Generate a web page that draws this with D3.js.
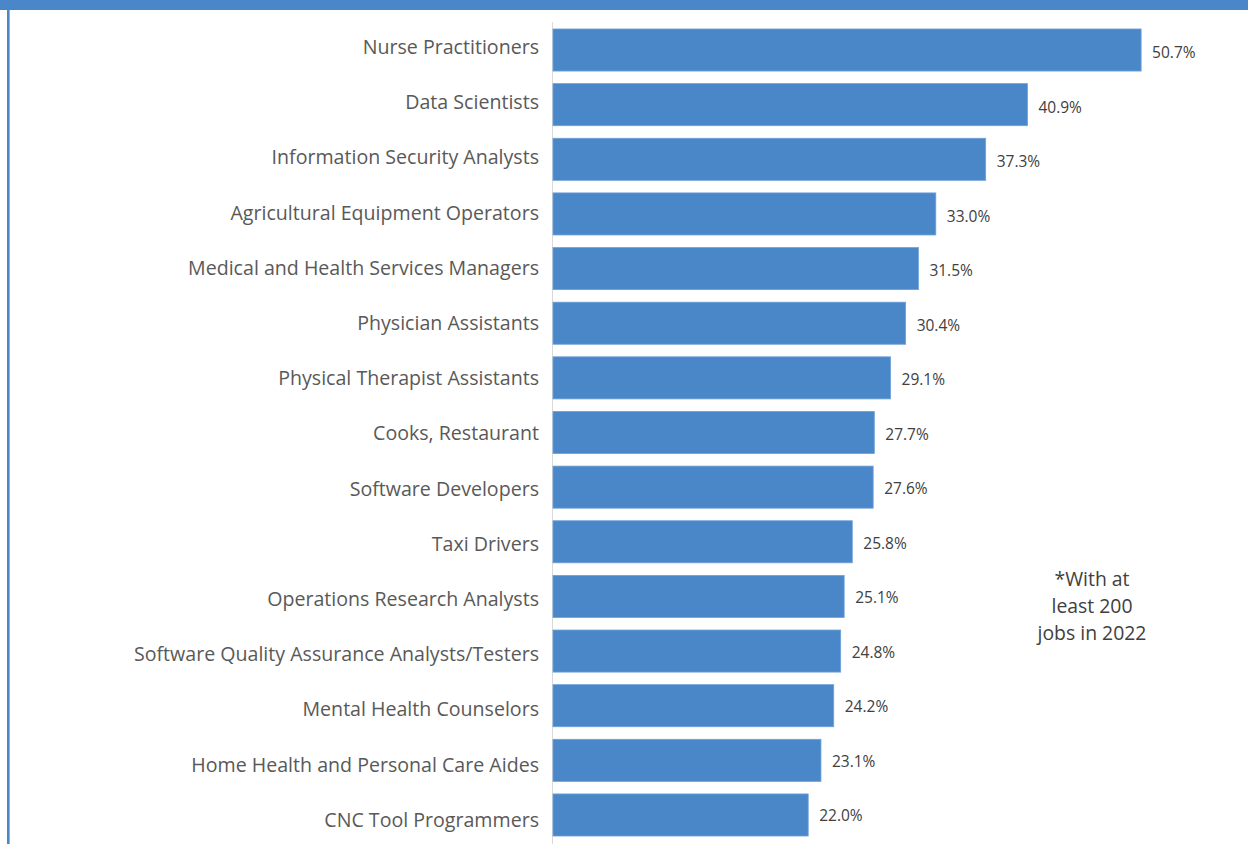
<!DOCTYPE html>
<html>
<head>
<meta charset="utf-8">
<script src="https://cdn.jsdelivr.net/npm/d3@7"></script>
<style>
  html, body { margin: 0; padding: 0; background: #fff; }
  svg { display: block; font-family: "Open Sans", "Noto Sans", sans-serif; }
</style>
</head>
<body>
<div id="chart"></div>
<script>
// Fastest growing occupations (percent change)
const occupations = [
    'Nurse Practitioners',
    'Data Scientists',
    'Information Security Analysts',
    'Agricultural Equipment Operators',
    'Medical and Health Services Managers',
    'Physician Assistants',
    'Physical Therapist Assistants',
    'Cooks, Restaurant',
    'Software Developers',
    'Taxi Drivers',
    'Operations Research Analysts',
    'Software Quality Assurance Analysts/Testers',
    'Mental Health Counselors',
    'Home Health and Personal Care Aides',
    'CNC Tool Programmers'
];
const growth = [50.7, 40.9, 37.3, 33.0, 31.5, 30.4, 29.1, 27.7, 27.6, 25.8, 25.1, 24.8, 24.2, 23.1, 22.0];
const noteLines = ['*With at', 'least 200', 'jobs in 2022'];

const width = 1248;
const height = 844;

const svg = d3.select('#chart').append('svg')
    .attr('width', width)
    .attr('height', height);

// frame: top band and left edge
svg.append('rect')
    .attr('x', 0).attr('y', 0)
    .attr('width', width).attr('height', 10)
    .attr('fill', '#4a87c8');
svg.append('rect')
    .attr('x', 7).attr('y', 10)
    .attr('width', 2).attr('height', height - 10)
    .attr('fill', '#4a87c8');
svg.append('rect')
    .attr('x', 9).attr('y', 10)
    .attr('width', 1).attr('height', height - 10)
    .attr('fill', '#8db4e0');

const data = occupations.map((name, i) => ({ name, value: growth[i] }));

const x = d3.scaleLinear()
    .domain([0, 60])
    .range([553, 1249]);

const y = d3.scaleBand()
    .domain(occupations)
    .range([22.7, 842.3])
    .paddingInner(0.23)
    .paddingOuter(0.115);

// labels are spread a touch wider than the bars
const labelY = d3.scalePoint()
    .domain(occupations)
    .range([47, 820]);
const valueY = d3.scalePoint()
    .domain(occupations)
    .range([53, 816]);

// category axis line
svg.append('line')
    .attr('x1', 552.5).attr('x2', 552.5)
    .attr('y1', 22).attr('y2', height)
    .attr('stroke', '#d9d9d9')
    .attr('stroke-width', 1);

// bars
svg.selectAll('.bar')
    .data(data)
    .enter()
    .append('rect')
    .attr('class', 'bar')
    .attr('x', x(0))
    .attr('y', d => y(d.name))
    .attr('width', d => x(d.value) - x(0))
    .attr('height', y.bandwidth())
    .attr('fill', '#4a87c8')
    .attr('stroke', '#6fa0d8')
    .attr('stroke-width', 0.8);

// category labels
svg.selectAll('.cat')
    .data(data)
    .enter()
    .append('text')
    .attr('class', 'cat')
    .attr('x', 539)
    .attr('y', d => labelY(d.name))
    .attr('dy', '0.35em')
    .attr('text-anchor', 'end')
    .attr('fill', '#595959')
    .attr('font-size', '19.6px')
    .text(d => d.name);

// value labels
svg.selectAll('.val')
    .data(data)
    .enter()
    .append('text')
    .attr('class', 'val')
    .attr('x', d => x(d.value) + 11)
    .attr('y', d => valueY(d.name))
    .attr('dy', '0.35em')
    .attr('fill', '#404040')
    .attr('font-size', '15.5px')
    .text(d => d.value.toFixed(1) + '%');

// footnote
svg.append('g')
    .selectAll('text')
    .data(noteLines)
    .enter()
    .append('text')
    .attr('x', 1092)
    .attr('y', (d, i) => 579 + i * 27)
    .attr('dy', '0.35em')
    .attr('text-anchor', 'middle')
    .attr('fill', '#404040')
    .attr('font-size', '19.4px')
    .text(d => d);
</script>
</body>
</html>
